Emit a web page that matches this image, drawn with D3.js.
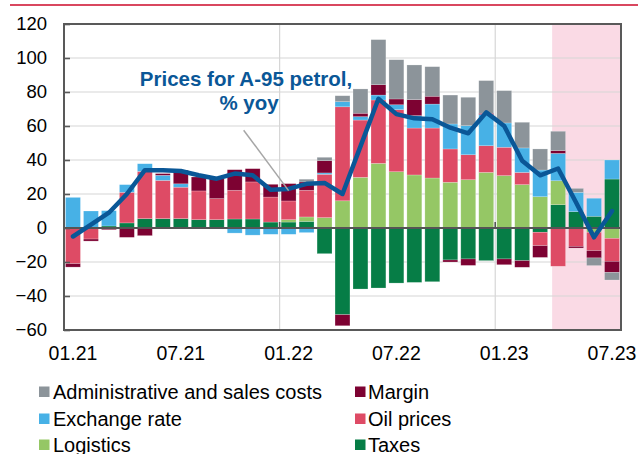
<!DOCTYPE html>
<html><head><meta charset="utf-8">
<script src="https://cdn.jsdelivr.net/npm/d3@7"></script>
<style>
body{margin:0;background:#fff;}
text{font-family:Arial,"Liberation Sans",sans-serif;}
</style>
</head><body><svg id="c" width="638" height="454"></svg>
<script>
const months = ["01.21","02.21","03.21","04.21","05.21","06.21","07.21","08.21","09.21","10.21","11.21","12.21",
  "01.22","02.22","03.22","04.22","05.22","06.22","07.22","08.22","09.22","10.22","11.22","12.22",
  "01.23","02.23","03.23","04.23","05.23","06.23","07.23"];
const tickLabels = ["01.21","07.21","01.22","07.22","01.23","07.23"];
const yTicks = [-60,-40,-20,0,20,40,60,80,100,120];
const forecastStart = "04.23";

const taxes    = [0,0,1.2,3,5.5,5.5,5.5,4.9,4.9,5.3,5.3,3.5,3.5,3.9,-15.1,-51,-35.9,-35.3,-32.4,-32,-31.6,-18.8,-18.2,-19.2,-18.2,-19.2,-2.5,13.7,9.6,6.9,28.8];
const logistics= [0,0,0,0,0,0,0,0,0,0,0,0,1.4,2.6,6.1,16,29.8,38,33.1,31.2,29.4,26.9,28.4,32.7,30.8,25.5,18.4,14.1,0,-2.5,-6.1];
const oil      = [-21,-6.5,0,18,27.8,22.5,18.5,16.9,12.4,16.9,21.8,14.7,11,15.7,25.5,55.3,33.7,37.3,36.5,27.6,29.4,19.6,14.7,15.7,16.7,7.2,-7.9,-22.5,-10.8,-10.8,-13.5];
const exchange = [18,10,9,4.5,4.5,3,2,0,-0.6,-3,-4.2,-3.7,-3.7,-2.7,0.8,3,2,2.9,2.9,7.3,14.1,14.7,17.1,18.3,14.3,14.4,15.7,16.1,11.4,10.6,11.2];
const margin   = [-2,-1.2,-1,-5.5,-4.5,1,8,8.2,11.7,12.1,7.8,7.5,10.2,4.9,7.2,-6.5,2,6.1,3.4,9.4,4.6,-1.2,-3.8,0.8,-3.4,-3.9,-6.9,1.6,-1,-4.3,-6.5];
const admin    = [0,0,0,0,0,0,0,0,0,0,0,0,0,1.6,2,3.5,14.3,26.5,23.1,20.4,17.4,17,16.7,19.2,19,15.1,12.4,11.4,2.3,-4.5,-4.5];
const price    = [-5,2,9,20,34,34,33.5,31,29,32,31,22.5,23,26,26.5,20,48,76,67,64.5,64,59,55.7,68,60,39.6,31,35,15,-5.5,10];

const seriesKeys = ["Taxes","Logistics","Oil prices","Exchange rate","Margin","Administrative and sales costs"];
const seriesValues = [taxes, logistics, oil, exchange, margin, admin];
const colors = {
  "Administrative and sales costs":"#8c949a",
  "Margin":"#7d0232",
  "Exchange rate":"#47b1e6",
  "Oil prices":"#de4b65",
  "Logistics":"#95c765",
  "Taxes":"#067d46"
};
const legendOrder = [["Administrative and sales costs","Margin"],["Exchange rate","Oil prices"],["Logistics","Taxes"]];

const svg = d3.select("#c");
const L=64, R=621, T=24, B=330;

const x = d3.scaleBand().domain(months).range([L,R]).paddingInner(0.17).paddingOuter(0.085);
const y = d3.scaleLinear().domain([-60,120]).range([B,T]);
const step = x.step();
const xc = m => x(m) + x.bandwidth()/2;
const xb = m => x(m) - step*0.085; // boundary before a month

// top red rule
svg.append("line").attr("x1",10).attr("x2",638).attr("y1",5).attr("y2",5)
  .attr("stroke","#d9475f").attr("stroke-width",2.2);

// forecast shading
const shadeX = x(forecastStart) + 1.5;
svg.append("rect").attr("x",shadeX).attr("y",T).attr("width",R-shadeX).attr("height",B-T)
  .attr("fill","#fadae5");

// gridlines
svg.append("g").selectAll("line").data(yTicks).join("line")
  .attr("x1",L).attr("x2",R).attr("y1",d=>y(d)).attr("y2",d=>y(d))
  .attr("stroke","#d6d6d6").attr("stroke-width",1.2);
svg.append("g").selectAll("line").data(["01.22","01.23"]).join("line")
  .attr("x1",d=>xb(d)).attr("x2",d=>xb(d)).attr("y1",T).attr("y2",B)
  .attr("stroke","#d6d6d6").attr("stroke-width",1.2);

// stacked bars
const rows = months.map((m,i)=>{const o={month:m}; seriesKeys.forEach((k,j)=>o[k]=seriesValues[j][i]); return o;});
const stacked = d3.stack().keys(seriesKeys).offset(d3.stackOffsetDiverging)(rows);
svg.append("g").selectAll("g").data(stacked).join("g")
  .attr("fill",s=>colors[s.key])
  .selectAll("rect").data(s=>s.filter(d=>d[1]!==d[0])).join("rect")
  .attr("x",d=>x(d.data.month)).attr("width",x.bandwidth())
  .attr("y",d=>y(Math.max(d[0],d[1]))).attr("height",d=>Math.abs(y(d[0])-y(d[1])))
  .attr("stroke","#ffffff").attr("stroke-opacity",0.35).attr("stroke-width",0.6);

// zero line
svg.append("line").attr("x1",L).attr("x2",R).attr("y1",y(0)).attr("y2",y(0))
  .attr("stroke","#555").attr("stroke-width",2);
svg.append("g").selectAll("line").data(["01.22","01.23"]).join("line")
  .attr("x1",d=>xb(d)).attr("x2",d=>xb(d)).attr("y1",y(0)).attr("y2",y(0)-6)
  .attr("stroke","#555").attr("stroke-width",1.6);

// price line
svg.append("path").datum(price)
  .attr("d",d3.line().x((d,i)=>xc(months[i])).y(d=>y(d)))
  .attr("fill","none").attr("stroke","#0a5797").attr("stroke-width",4.5)
  .attr("stroke-linejoin","round").attr("stroke-linecap","round");

// frame
svg.append("rect").attr("x",L).attr("y",T).attr("width",R-L).attr("height",B-T)
  .attr("fill","none").attr("stroke","#595959").attr("stroke-width",2);

// y axis
const yAxis = svg.append("g").attr("transform",`translate(${L},0)`)
  .call(d3.axisLeft(y).tickValues(yTicks).tickSize(-6).tickPadding(17).tickFormat(d3.format("d")));
yAxis.select(".domain").remove();
yAxis.selectAll("line").attr("stroke","#595959").attr("stroke-width",1.6);
yAxis.selectAll("text").attr("font-size",18.5).attr("fill","#000").style("font-family","Arial, 'Liberation Sans', sans-serif");

// x axis
const xAxis = svg.append("g").attr("transform",`translate(0,${B})`)
  .call(d3.axisBottom(x).tickValues(tickLabels).tickSize(0).tickPadding(16.5));
xAxis.select(".domain").remove();
xAxis.selectAll("text").attr("font-size",19.5).attr("fill","#000").style("font-family","Arial, 'Liberation Sans', sans-serif");

// annotation
svg.append("line")
  .attr("x1",xc(months[9])+0.5*step).attr("y1",y(57.5))
  .attr("x2",xc(months[12])).attr("y2",y(22))
  .attr("stroke","#a6a6a6").attr("stroke-width",1.5);
const ann = svg.append("text").attr("text-anchor","middle").attr("font-weight","bold")
  .attr("font-size",20.5).attr("fill","#0a5797");
ann.append("tspan").attr("x",246).attr("y",85.5).text("Prices for A-95 petrol,");
ann.append("tspan").attr("x",249).attr("y",110).text("% yoy");

// legend
const colX = [[39,53],[355,368]];
const rowY = [392,419,445];
legendOrder.forEach((row,ri)=>row.forEach((k,ci)=>{
  svg.append("rect").attr("x",colX[ci][0]).attr("y",rowY[ri]-5.5).attr("width",10.5).attr("height",10.5).attr("fill",colors[k]);
  svg.append("text").attr("x",colX[ci][1]).attr("y",rowY[ri]).attr("dy","0.35em")
    .attr("font-size",20).attr("fill","#000").text(k);
}));
</script>
</body></html>
